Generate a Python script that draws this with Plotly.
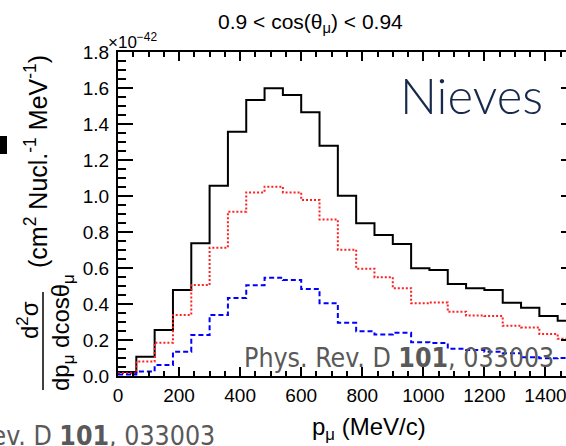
import plotly.graph_objects as go

# ---------------- data ----------------
p_edges = [0, 60, 120, 180, 240, 300, 360, 420, 480, 540, 600, 660, 720, 780,
           840, 900, 960, 1020, 1080, 1140, 1200, 1260, 1320, 1380, 1440, 1500]

# d2sigma / dp dcos  in units of 1e-42 cm^2 / nucleon / MeV
total = [0.022, 0.107, 0.256, 0.478, 0.737, 1.057, 1.357, 1.533, 1.598, 1.561,
         1.465, 1.279, 1.001, 0.848, 0.783, 0.733, 0.598, 0.589, 0.511, 0.487,
         0.478, 0.407, 0.379, 0.333, 0.307]
red_comp = [0.015, 0.080, 0.185, 0.339, 0.505, 0.713, 0.913, 1.020, 1.052, 1.020,
            0.978, 0.870, 0.702, 0.596, 0.549, 0.488, 0.404, 0.409, 0.357, 0.336,
            0.333, 0.279, 0.270, 0.233, 0.207]
blue_comp = [0.008, 0.025, 0.061, 0.135, 0.228, 0.339, 0.433, 0.504, 0.546, 0.533,
             0.483, 0.404, 0.296, 0.248, 0.230, 0.240, 0.188, 0.184, 0.151, 0.144,
             0.135, 0.126, 0.104, 0.098, 0.100]

x_ticks = [0, 200, 400, 600, 800, 1000, 1200, 1400]
y_ticks = [0.0, 0.2, 0.4, 0.6, 0.8, 1.0, 1.2, 1.4, 1.6, 1.8]

# ---------------- layout geometry ----------------
W, H = 590, 446
L, R, T, B = 118, 14, 52, 70
PW, PH = W - L - R, H - T - B


def px(xp):
    return (xp - L) / PW


def py(yp):
    return (H - B - yp) / PH


FONT = "Liberation Sans, Arial, Helvetica, sans-serif"


def step(vals):
    return p_edges, list(vals) + [vals[-1]]


fig = go.Figure()
for vals, color, dash, width in [
    (total, "#000000", "solid", 2),
    (red_comp, "#ff2020", "2px,2px", 2),
    (blue_comp, "#0000ff", "5px,3px", 2),
]:
    xs, ys = step(vals)
    fig.add_trace(go.Scatter(x=xs, y=ys, mode="lines",
                             line=dict(color=color, width=width, dash=dash, shape="hv"),
                             hoverinfo="skip", showlegend=False))

axis_common = dict(showline=True, linecolor="black", linewidth=2, mirror="allticks",
                   ticks="inside", tickcolor="black", tickwidth=1.5,
                   showgrid=False, zeroline=False,
                   tickfont=dict(family=FONT, size=19, color="black"))

fig.update_xaxes(range=[0, 1500], tickvals=x_ticks, ticklen=9,
                 minor=dict(dtick=50, ticklen=5, ticks="inside", tickcolor="black", tickwidth=1.5),
                 ticklabelstandoff=1, **axis_common)
fig.update_yaxes(range=[0, 1.8], tickvals=y_ticks, tickformat=".1f", ticklen=15,
                 minor=dict(dtick=0.05, ticklen=8, ticks="inside", tickcolor="black", tickwidth=1.5),
                 ticklabelstandoff=3, **axis_common)

ann = []


def add(text, x, y, size, xanchor="center", yanchor="middle", angle=0, color="black",
        family=FONT, weight=None):
    f = dict(family=family, size=size, color=color)
    if weight is not None:
        f["weight"] = weight
    ann.append(dict(text=text, x=px(x), y=py(y), xref="paper", yref="paper",
                    xanchor=xanchor, yanchor=yanchor, textangle=angle,
                    showarrow=False, font=f))


add("0.9 &lt; cos(θ<sub>μ</sub>) &lt; 0.94", 310, 23, 21)
add("×10<sup>−42</sup>", 106, 41, 17, xanchor="left")
add("p<sub>μ</sub> (MeV/c)", 369, 428, 24)
add("(cm<sup>2</sup> Nucl.<sup>-1</sup> MeV<sup>-1</sup>)", 36, 162, 25, angle=-90)
add("d<sup>2</sup>σ", 28, 320, 24, angle=-90)
add("dp<sub>μ</sub> dcosθ<sub>μ</sub>", 62, 333, 24, angle=-90)
add("Nieves", 471, 95, 49, color="#17294a", family="Lato, Open Sans, sans-serif", weight=300)
add("Phys. Rev. D <b>101</b>, 033003", 556, 357, 26.5, xanchor="right", color="#595959",
    family="DejaVu Sans Condensed, DejaVu Sans, sans-serif")
add("Phys. Rev. D <b>101</b>, 033003", 217, 435, 26.5, xanchor="right", color="#595959",
    family="DejaVu Sans Condensed, DejaVu Sans, sans-serif")

shapes = [
    dict(type="line", xref="paper", yref="paper", x0=px(43), x1=px(43),
         y0=py(292), y1=py(390), line=dict(color="black", width=1.5)),
    dict(type="rect", xref="paper", yref="paper", x0=px(-2), x1=px(7),
         y0=py(154), y1=py(136), fillcolor="black", line=dict(width=0)),
]

fig.update_layout(width=W, height=H, margin=dict(l=L, r=R, t=T, b=B, autoexpand=False),
                  paper_bgcolor="white", plot_bgcolor="white",
                  annotations=ann, shapes=shapes, showlegend=False)

fig.write_html("out.html", config={"displayModeBar": False},
               post_script="document.documentElement.style.overflow='hidden';"
                           "document.body.style.overflow='hidden';"
                           "document.body.style.margin='0';")
